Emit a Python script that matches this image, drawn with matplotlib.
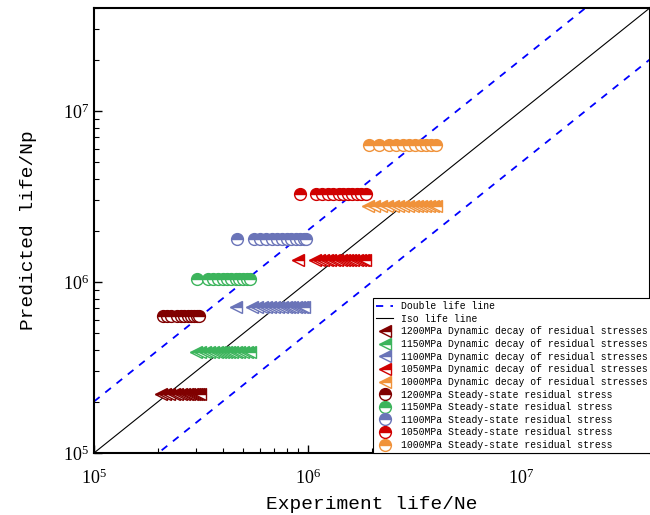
import matplotlib
matplotlib.use('Agg')
import matplotlib.pyplot as plt
import numpy as np

plt.rcParams['font.family'] = 'Liberation Serif'
plt.rcParams['mathtext.fontset'] = 'custom'
plt.rcParams['mathtext.rm'] = 'Liberation Serif'
plt.rcParams['mathtext.it'] = 'Liberation Serif'

stress_levels = ['1200MPa', '1150MPa', '1100MPa', '1050MPa', '1000MPa']
colors = ['#800000', '#3cb45c', '#6a74b8', '#d00000', '#f0923a']

# Dynamic decay of residual stresses: experiment life and predicted life
dyn_ne = [
    [2.07e5, 2.16e5, 2.25e5, 2.38e5, 2.45e5, 2.56e5, 2.64e5, 2.73e5, 2.79e5, 2.88e5, 2.94e5, 3.01e5, 3.07e5, 3.14e5],
    [3.0e5, 3.15e5, 3.3e5, 3.45e5, 3.6e5, 3.75e5, 3.9e5, 4.0e5, 4.15e5, 4.3e5, 4.45e5, 4.6e5, 4.8e5, 5.0e5, 5.2e5, 5.35e5],
    [4.61e5, 5.5e5, 5.8e5, 6.1e5, 6.4e5, 6.7e5, 7.0e5, 7.3e5, 7.6e5, 7.9e5, 8.2e5, 8.5e5, 8.8e5, 9.1e5, 9.4e5, 9.6e5],
    [9.03e5, 1.08e6, 1.13e6, 1.18e6, 1.23e6, 1.28e6, 1.33e6, 1.38e6, 1.43e6, 1.48e6, 1.53e6, 1.58e6, 1.64e6, 1.70e6, 1.76e6, 1.82e6, 1.85e6],
    [1.91e6, 2.05e6, 2.2e6, 2.35e6, 2.5e6, 2.65e6, 2.8e6, 2.95e6, 3.1e6, 3.25e6, 3.4e6, 3.55e6, 3.7e6, 3.85e6, 4.0e6],
]
dyn_np = [2.22e5, 3.9e5, 7.15e5, 1.35e6, 2.78e6]

# Steady-state residual stress: experiment life and predicted life
ss_ne = [
    [2.1e5, 2.2e5, 2.3e5, 2.45e5, 2.55e5, 2.65e5, 2.75e5, 2.85e5, 2.95e5, 3.05e5, 3.1e5],
    [3.05e5, 3.4e5, 3.6e5, 3.8e5, 4.0e5, 4.2e5, 4.4e5, 4.6e5, 4.8e5, 5.0e5, 5.2e5, 5.4e5],
    [4.65e5, 5.6e5, 6.0e5, 6.4e5, 6.8e5, 7.2e5, 7.6e5, 8.0e5, 8.4e5, 8.8e5, 9.2e5, 9.6e5, 9.8e5],
    [9.2e5, 1.09e6, 1.17e6, 1.25e6, 1.32e6, 1.40e6, 1.47e6, 1.55e6, 1.62e6, 1.70e6, 1.78e6, 1.87e6],
    [1.93e6, 2.15e6, 2.4e6, 2.6e6, 2.8e6, 3.0e6, 3.2e6, 3.4e6, 3.6e6, 3.8e6, 4.0e6],
]
ss_np = [6.33e5, 1.04e6, 1.78e6, 3.27e6, 6.32e6]

life_range = [1e5, 4e7]

fig = plt.figure(figsize=(6.5, 5.15), dpi=100)
ax = fig.add_axes([0.1446, 0.1204, 0.855, 0.864])

x_line = np.array(life_range)
dbl, = ax.plot(x_line, x_line * 2, color='blue', ls=(0, (4, 4)), lw=1.3)
ax.plot(x_line, x_line / 2, color='blue', ls=(0, (4, 4)), lw=1.3)
iso, = ax.plot(x_line, x_line, color='black', lw=0.8)

handles = [dbl, iso]
labels = ['Double life line', 'Iso life line']

for name, c, ne, npv in zip(stress_levels, colors, dyn_ne, dyn_np):
    h, = ax.plot(ne, [npv] * len(ne), ls='none', marker='<', ms=9,
                 fillstyle='top', color=c, markerfacecoloralt='white',
                 mec=c, mew=1.0)
    handles.append(h)
    labels.append(name + ' Dynamic decay of residual stresses')

for name, c, ne, npv in zip(stress_levels, colors, ss_ne, ss_np):
    h, = ax.plot(ne, [npv] * len(ne), ls='none', marker='o', ms=8.5,
                 fillstyle='top', color=c, markerfacecoloralt='white',
                 mec=c, mew=1.0)
    handles.append(h)
    labels.append(name + ' Steady-state residual stress')

ax.set_xscale('log')
ax.set_yscale('log')
ax.set_xlim(life_range)
ax.set_ylim(life_range)

ax.tick_params(which='both', direction='in', labelsize=13)
ax.tick_params(which='major', length=6, width=1.0)
ax.tick_params(which='minor', length=3.5, width=0.8)
ax.tick_params(axis='x', which='major', pad=11)
for sp in ax.spines.values():
    sp.set_linewidth(1.5)

ax.set_xlabel('Experiment life/Ne', fontsize=14, family='Liberation Mono', labelpad=6)
ax.set_ylabel('Predicted life/Np', fontsize=14, family='Liberation Mono', labelpad=19)

leg = ax.legend(handles, labels, loc='lower left', bbox_to_anchor=(0.502, 0.0),
                borderaxespad=0.0, prop={'family': 'Liberation Mono', 'size': 7},
                fancybox=False, edgecolor='black', framealpha=1.0,
                handlelength=1.8, handletextpad=0.8, labelspacing=0.27,
                borderpad=0.3)
leg.get_frame().set_linewidth(0.8)

plt.savefig('out.png', dpi=100)
plt.close()
